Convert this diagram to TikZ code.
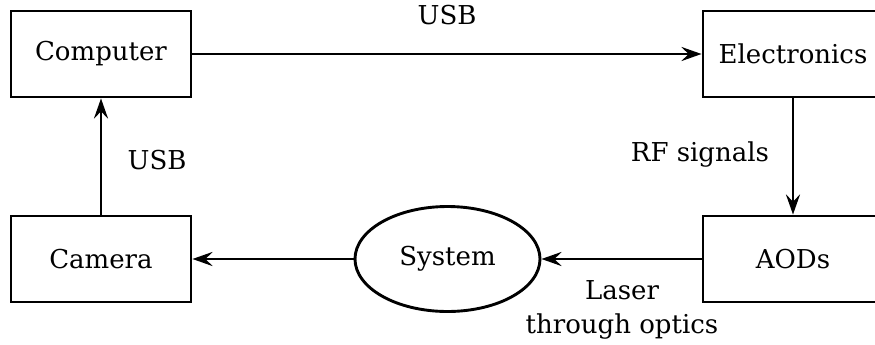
\documentclass[tikz,border=0pt]{standalone}
\usepackage{fontspec}
\setmainfont{DejaVu Serif}
\usetikzlibrary{shapes.geometric,arrows.meta,positioning}
\tikzset{
  unit/.style={rectangle,draw=black,line width=1.45pt,minimum width=90pt,
    minimum height=43pt,inner sep=0pt,align=center},
  plant/.style={ellipse,draw=black,line width=1.45pt,minimum width=92.5pt,
    minimum height=52.5pt,inner sep=0pt},
  arr/.style={-{Stealth[length=10pt,width=7pt,inset=3.5pt]},line width=1.3pt},
  lbl/.style={inner sep=0pt,align=center},
}
\begin{document}
\begin{tikzpicture}[x=0.5pt,y=-0.5pt,font=\fontsize{13}{17}\selectfont]
  \useasboundingbox (0,0) rectangle (875,344);
  \node[unit] (computer) at (101,54) {Computer};
  \node[unit] (electronics) at (793,54) {Electronics};
  \node[unit] (camera) at (101,259) {Camera};
  \node[unit] (aods) at (793,259) {AODs};
  \node[plant] (system) at (447.5,259) {System};
  % connectors
  \draw[arr] (computer) -- (electronics);
  \draw[arr] (electronics) -- (aods);
  \draw[arr] (aods) -- (system);
  \draw[arr] (system) -- (camera);
  \draw[arr] (camera) -- (computer);
  % labels
  \node[lbl] (usbtop) at (447,15) {USB};
  \node[lbl] (rf) at (700,155) {RF signals};
  \node[lbl] (usbleft) at (157,160) {USB};
  \node[lbl] (laser) at (622,310) {Laser\\through optics};
\end{tikzpicture}
\end{document}
